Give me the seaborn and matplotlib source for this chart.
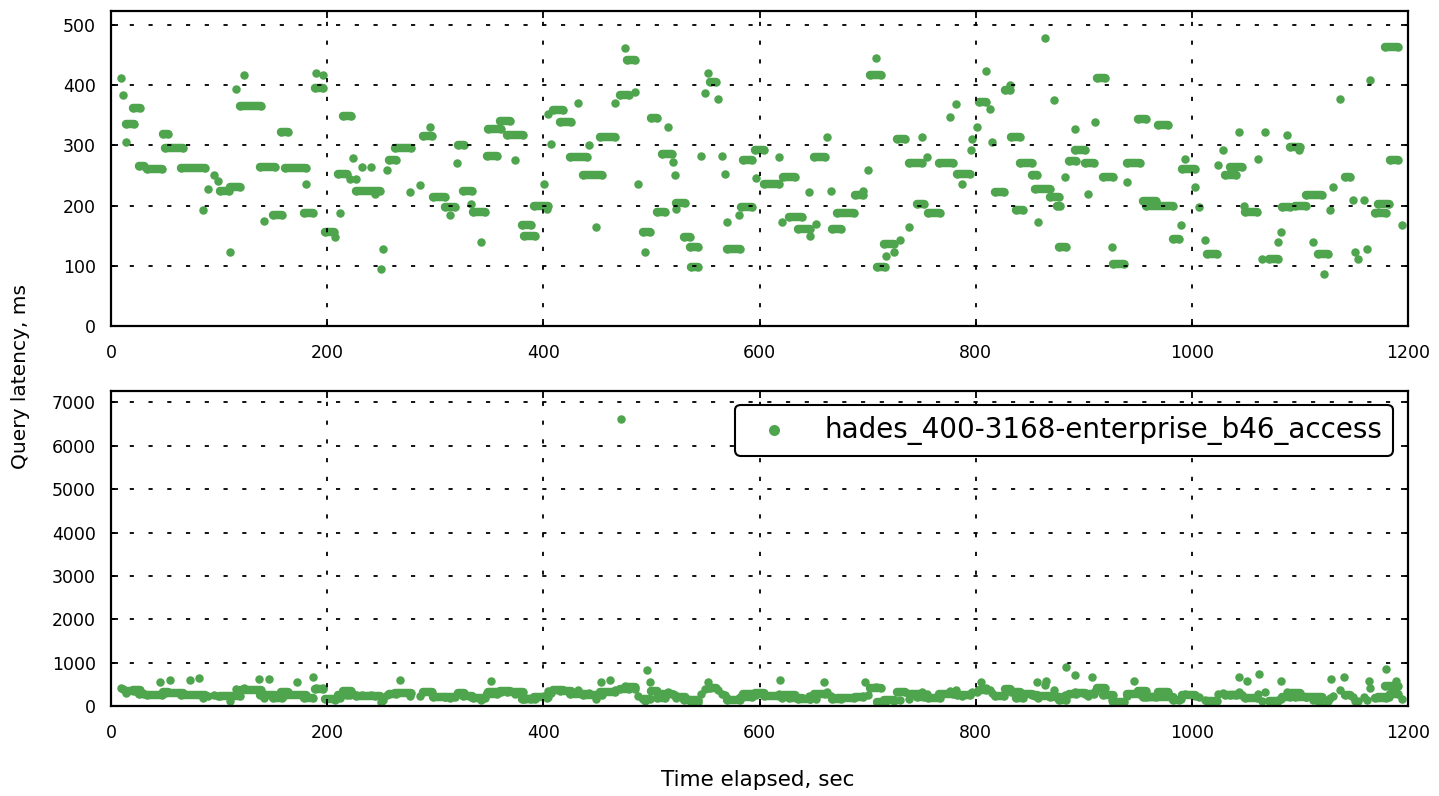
import matplotlib
matplotlib.use("Agg")
import matplotlib.pyplot as plt
import pandas as pd
import seaborn as sns

SERIES_NAME = "hades_400-3168-enterprise_b46_access"
GREEN = "#4ea54e"

# runs of consecutive queries with the same latency: first second, last second, latency (ms)
run_start = [
    9, 11, 14, 14, 20, 26, 33, 48, 50, 65, 85, 90, 95, 99, 101, 110, 110, 116, 123, 119,
    138, 142, 150, 157, 161, 180, 179, 189, 190, 196, 198,
    207, 212, 210, 215, 221, 227, 224, 227, 232, 241, 244, 252, 250, 255, 257, 263, 277, 286, 289, 295,
    298, 309, 314, 321, 320, 326, 333, 335, 342, 348, 349, 360, 366, 374, 380, 382, 391, 403,
    401, 404, 407, 409, 415, 432, 425, 442, 437, 449, 452, 466, 471, 476, 477, 485, 488, 492, 494, 500,
    505, 515, 510, 520, 522, 523, 523, 530, 536, 537, 546, 550, 552, 554, 562, 565, 568, 570, 570, 581,
    583, 585, 596, 597,
    604, 618, 621, 622, 627, 636, 647, 646, 652, 650, 662, 666, 667, 672, 688, 696, 700, 702, 708, 709,
    717, 715, 724, 730, 738, 727, 738, 755, 746, 750, 756, 766, 776, 782, 783, 787, 796, 797,
    801, 803, 813, 810, 815, 818, 827, 832, 833, 837, 841, 852, 855, 869, 875, 858, 864, 872, 877, 883,
    886, 892, 892, 901, 904, 910, 912, 918, 926, 927, 940, 940, 950, 955, 958, 969, 983, 990, 991, 994,
    1003, 1007, 1012, 1014, 1024, 1029, 1031, 1035, 1044, 1048, 1049, 1061, 1065, 1071, 1068, 1080, 1082,
    1083, 1088, 1091, 1099, 1095, 1106, 1112, 1117, 1122, 1128, 1131, 1137, 1142, 1149, 1151, 1154, 1159,
    1162, 1165, 1169, 1172, 1179, 1183, 1194,
]
run_end = [
    9, 11, 14, 21, 27, 31, 47, 53, 67, 87, 85, 90, 95, 99, 109, 119, 110, 116, 123, 139,
    152, 142, 158, 164, 180, 180, 187, 196, 190, 196, 206,
    207, 212, 218, 222, 221, 227, 224, 249, 232, 241, 244, 252, 250, 255, 264, 278, 277, 286, 297, 295,
    309, 318, 314, 327, 320, 334, 333, 346, 342, 357, 361, 369, 381, 374, 389, 392, 404, 403,
    401, 404, 407, 418, 426, 432, 440, 442, 454, 449, 466, 466, 479, 476, 485, 485, 488, 499, 494, 505,
    513, 515, 519, 520, 522, 531, 523, 536, 543, 543, 546, 550, 552, 560, 562, 565, 568, 570, 582, 581,
    593, 593, 604, 597,
    618, 618, 621, 633, 639, 647, 647, 646, 652, 661, 662, 666, 675, 687, 696, 696, 700, 712, 708, 716,
    717, 724, 724, 730, 738, 735, 750, 755, 752, 750, 767, 779, 776, 782, 795, 787, 796, 797,
    801, 810, 813, 810, 815, 826, 832, 832, 841, 844, 852, 857, 869, 877, 878, 858, 864, 872, 884, 883,
    893, 892, 901, 909, 904, 910, 920, 927, 926, 937, 940, 952, 958, 967, 983, 978, 988, 990, 1003, 994,
    1003, 1007, 1012, 1023, 1024, 1029, 1041, 1046, 1044, 1048, 1060, 1061, 1065, 1080, 1068, 1080, 1082,
    1091, 1088, 1100, 1099, 1106, 1120, 1112, 1126, 1122, 1128, 1131, 1137, 1146, 1149, 1151, 1154, 1159,
    1162, 1165, 1180, 1182, 1191, 1191, 1194,
]
run_latency = [
    412, 384, 306, 336, 362, 265, 260, 319, 296, 262, 192, 228, 251, 241, 224, 231, 123, 394, 417, 366,
    264, 175, 184, 323, 262, 236, 187, 395, 420, 417, 156,
    148, 187, 253, 348, 244, 244, 279, 225, 264, 264, 219, 128, 95, 259, 275, 296, 222, 234, 315, 331,
    214, 198, 184, 301, 270, 225, 203, 189, 139, 283, 328, 341, 317, 275, 167, 150, 200, 194,
    236, 352, 303, 358, 339, 370, 281, 300, 251, 164, 314, 370, 384, 461, 442, 389, 236, 156, 123, 345,
    189, 330, 286, 272, 250, 205, 194, 148, 131, 98, 283, 387, 420, 406, 377, 283, 253, 173, 128, 184,
    198, 275, 292, 245,
    236, 281, 173, 248, 181, 161, 150, 223, 170, 281, 314, 225, 161, 187, 217, 225, 259, 417, 445, 98,
    117, 136, 123, 142, 164, 311, 270, 281, 203, 314, 187, 270, 347, 369, 253, 236, 292, 311,
    330, 372, 361, 423, 306, 223, 392, 400, 314, 192, 270, 250, 228, 214, 200, 173, 478, 376, 131, 248,
    274, 328, 292, 270, 220, 339, 412, 248, 131, 103, 239, 270, 343, 208, 200, 333, 145, 167, 261, 278,
    231, 198, 142, 120, 267, 292, 250, 264, 322, 200, 189, 278, 112, 112, 322, 139, 156,
    198, 317, 297, 292, 200, 217, 139, 120, 87, 192, 231, 377, 248, 209, 123, 112, 209,
    128, 409, 187, 203, 464, 275, 167,
]

# single slow queries, only visible on the full-range panel
spike_time = [45, 55, 73, 81, 137, 146, 172, 187, 267, 352, 453, 462, 472, 496, 499, 552, 619, 660,
              698, 805, 857, 865, 884, 892, 908, 946, 1044, 1051, 1062, 1082, 1129, 1141, 1164, 1180, 1189]
spike_latency = [545, 593, 608, 654, 631, 631, 545, 670, 593, 570, 545, 608, 6620, 824, 554, 545, 593, 545,
                 545, 545, 554, 570, 900, 708, 662, 570, 670, 570, 747, 570, 631, 670, 570, 862, 570]

x_ticks = [0, 200, 400, 600, 800, 1000, 1200]
zoom_y_ticks = [0, 100, 200, 300, 400, 500]
full_y_ticks = [0, 1000, 2000, 3000, 4000, 5000, 6000, 7000]

MARKER_PT = 6.1

plt.rcParams["font.family"] = "DejaVu Sans"
plt.rcParams["lines.scale_dashes"] = False

starts = pd.DataFrame({"time": run_start, "latency": run_latency})
ends = pd.DataFrame({"time": run_end, "latency": run_latency})
ends = ends[ends["time"] != starts["time"]]
spikes = pd.DataFrame({"time": spike_time, "latency": spike_latency})
points = pd.concat([starts, ends, spikes], ignore_index=True)


def draw_panel(ax, y_max, y_ticks, label=None):
    # runs are filled with a round-capped stroke as wide as the dots
    ax.hlines(run_latency, run_start, run_end, colors=GREEN, linewidth=MARKER_PT, capstyle="round")
    sns.scatterplot(data=points, x="time", y="latency", color=GREEN, s=MARKER_PT ** 2,
                    linewidth=0, ax=ax, label=label, legend=False)

    ax.set_xlim(0, 1200)
    ax.set_ylim(0, y_max)
    ax.set_xticks(x_ticks)
    ax.set_yticks(y_ticks)
    ax.set_xlabel("")
    ax.set_ylabel("")
    ax.set_axisbelow(False)
    ax.grid(True, color="black", linestyle=(0, (3, 10.5)), linewidth=1.3)
    ax.tick_params(direction="in", length=5, width=1.3, top=True, right=True, labelsize=12.5)
    ax.tick_params(axis="x", pad=13)
    ax.tick_params(axis="y", pad=11)
    for spine in ax.spines.values():
        spine.set_linewidth(1.6)
        spine.set_color("black")


fig = plt.figure(figsize=(14.39, 7.96), dpi=100)
ax_zoom = fig.add_axes([0.0771, 0.5905, 0.9014, 0.3963])
ax_full = fig.add_axes([0.0771, 0.1131, 0.9014, 0.3963])

draw_panel(ax_zoom, 524, zoom_y_ticks)
draw_panel(ax_full, 7275, full_y_ticks, label=SERIES_NAME)

handles, labels = ax_full.get_legend_handles_labels()
leg = ax_full.legend(handles, labels, loc="upper right", bbox_to_anchor=(0.9884, 0.9556),
                     borderaxespad=0, fontsize=20, frameon=True, fancybox=True,
                     edgecolor="black", framealpha=1, markerscale=1.3)
leg.get_frame().set_linewidth(1.5)

fig.text(0.5268, 0.0201, "Time elapsed, sec", ha="center", va="center", fontsize=15.5)
fig.text(0.0139, 0.5276, "Query latency, ms", ha="center", va="center", rotation=90, fontsize=14.5)

fig.savefig("out.png", dpi=100)
